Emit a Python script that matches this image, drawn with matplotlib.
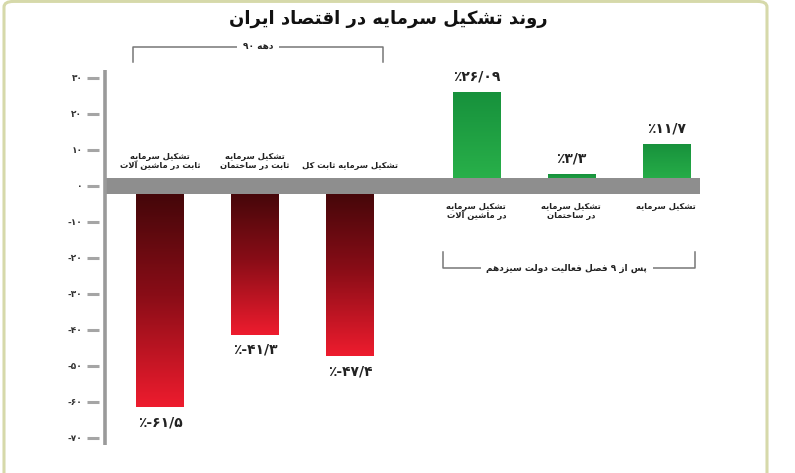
import re
import numpy as np
import matplotlib
matplotlib.use('Agg')
import matplotlib.pyplot as plt
from matplotlib.colors import LinearSegmentedColormap
from matplotlib.patches import FancyBboxPatch

# chart data
categories = [
    'تشکیل سرمایه\nثابت در ماشین آلات',
    'تشکیل سرمایه\nثابت در ساختمان',
    'تشکیل سرمایه ثابت کل',
    'تشکیل سرمایه\nدر ماشین آلات',
    'تشکیل سرمایه\nدر ساختمان',
    'تشکیل سرمایه',
]
values = [-61.5, -41.3, -47.4, 26.09, 3.3, 11.7]
yticks = [30, 20, 10, 0, -10, -20, -30, -40, -50, -60, -70]
title = 'روند تشکیل سرمایه در اقتصاد ایران'
group1 = 'دهه ۹۰'
group2 = 'پس از ۹ فصل فعالیت دولت سیزدهم'

# --- minimal Persian shaping (matplotlib has no bidi / joining) ---
FORMS = {  # isolated, final, initial, medial
    'ا': (0xFE8D, 0xFE8E, None, None), 'آ': (0xFE81, 0xFE82, None, None),
    'ب': (0xFE8F, 0xFE90, 0xFE91, 0xFE92), 'پ': (0xFB56, 0xFB57, 0xFB58, 0xFB59),
    'ت': (0xFE95, 0xFE96, 0xFE97, 0xFE98), 'ث': (0xFE99, 0xFE9A, 0xFE9B, 0xFE9C),
    'خ': (0xFEA5, 0xFEA6, 0xFEA7, 0xFEA8), 'د': (0xFEA9, 0xFEAA, None, None),
    'ر': (0xFEAD, 0xFEAE, None, None), 'ز': (0xFEAF, 0xFEB0, None, None),
    'س': (0xFEB1, 0xFEB2, 0xFEB3, 0xFEB4), 'ش': (0xFEB5, 0xFEB6, 0xFEB7, 0xFEB8),
    'ص': (0xFEB9, 0xFEBA, 0xFEBB, 0xFEBC), 'ع': (0xFEC9, 0xFECA, 0xFECB, 0xFECC),
    'ف': (0xFED1, 0xFED2, 0xFED3, 0xFED4), 'ق': (0xFED5, 0xFED6, 0xFED7, 0xFED8),
    'ک': (0xFB8E, 0xFB8F, 0xFB90, 0xFB91), 'ل': (0xFEDD, 0xFEDE, 0xFEDF, 0xFEE0),
    'م': (0xFEE1, 0xFEE2, 0xFEE3, 0xFEE4), 'ن': (0xFEE5, 0xFEE6, 0xFEE7, 0xFEE8),
    'ه': (0xFEE9, 0xFEEA, 0xFEEB, 0xFEEC), 'و': (0xFEED, 0xFEEE, None, None),
    'ی': (0xFBFC, 0xFBFD, 0xFBFE, 0xFBFF),
}
LAMALEF = {'ا': (0xFEFB, 0xFEFC), 'آ': (0xFEF5, 0xFEF6)}


def shape_line(s):
    toks = []
    i = 0
    while i < len(s):
        if s[i] == 'ل' and i + 1 < len(s) and s[i + 1] in LAMALEF:
            toks.append(('LA', s[i + 1]))
            i += 2
        else:
            toks.append(('C', s[i]))
            i += 1
    out = []
    for j, (k, c) in enumerate(toks):
        prev = toks[j - 1] if j > 0 else None
        nxt = toks[j + 1] if j + 1 < len(toks) else None
        jp = prev is not None and prev[0] == 'C' and prev[1] in FORMS and FORMS[prev[1]][2] is not None
        if k == 'LA':
            out.append(chr(LAMALEF[c][1] if jp else LAMALEF[c][0]))
            continue
        if c not in FORMS:
            out.append(c)
            continue
        f = FORMS[c]
        jn = nxt is not None and (nxt[0] == 'LA' or nxt[1] in FORMS) and f[2] is not None
        if jp and jn:
            out.append(chr(f[3]))
        elif jp:
            out.append(chr(f[1]))
        elif jn:
            out.append(chr(f[2]))
        else:
            out.append(chr(f[0]))
    vis = ''.join(out)[::-1]
    return re.sub('[۰-۹]+', lambda m: m.group()[::-1], vis)


def fa(s):
    return '\n'.join(shape_line(l) for l in s.split('\n'))


def fa_num(v):
    d = str(v).replace('.', '/')
    return d.translate(str.maketrans('0123456789', '۰۱۲۳۴۵۶۷۸۹'))


plt.rcParams['font.family'] = ['DejaVu Sans']
W, H = 795, 473
fig = plt.figure(figsize=(W / 100, H / 100), dpi=100)

# outer rounded frame
frame = FancyBboxPatch((4 / W, -0.05), 763 / W, 1.047, boxstyle='round,pad=0,rounding_size=0.012',
                       transform=fig.transFigure, facecolor='white', edgecolor='#d6d9aa', lw=2.2,
                       zorder=-5)
fig.patches.append(frame)

# axes: left edge = tick root, right edge = end of zero band
ax = fig.add_axes([99 / W, 1 - 445 / H, (700 - 99) / W, (445 - 70) / H])
ax.set_facecolor('none')
ax.set_zorder(2)
px = 95.0  # pixels per category step
ax.set_xlim((99 - 160) / px, (700 - 160) / px)
ax.set_ylim(-72, 32.2)

x = np.arange(len(values)) + np.where(np.arange(len(values)) >= 3, 0.33, 0.0)
width = 0.5

red_cmap = LinearSegmentedColormap.from_list('r', ['#3e0608', '#8a0d17', '#ee1c2e'])
green_cmap = LinearSegmentedColormap.from_list('g', ['#17913c', '#2ab34b'])
bars = ax.bar(x, values, width=width, color='none', edgecolor='none')
grad = np.linspace(0, 1, 256).reshape(-1, 1)
for b, v in zip(bars, values):
    x0, y0 = b.get_x(), b.get_y()
    w, h = b.get_width(), b.get_height()
    cmap = red_cmap if v < 0 else green_cmap
    ext = [x0, x0 + w, min(y0, y0 + h), max(y0, y0 + h)]
    im = ax.imshow(grad, extent=ext, cmap=cmap, aspect='auto', origin='upper', zorder=2)
    im.set_clip_path(b)

# zero band
ax.axhspan(-2.2, 2.2, xmin=0.01, xmax=1, color='#8e8e8e', lw=0, zorder=3)
# axis line
ax.plot([0.01, 0.01], [0, 1], transform=ax.transAxes, color='#9a9a9a', lw=2.6,
        solid_capstyle='butt', clip_on=False, zorder=4)

for s in ax.spines.values():
    s.set_visible(False)
ax.set_xticks([])
ax.set_yticks(yticks)
ax.set_yticklabels([fa_num(t) for t in yticks], fontsize=6.5, fontweight='bold', color='#333333')
ax.tick_params(axis='y', direction='out', length=9, width=2.2, color='#a5a5a5', pad=3)

# value labels
for xi, v in zip(x, values):
    lab = '٪' + fa_num(v)
    if v < 0:
        ax.text(xi, v - 2.3, lab, ha='center', va='top', fontsize=10, fontweight='bold', color='#222222')
    else:
        ax.text(xi, v + 2.3, lab, ha='center', va='bottom', fontsize=10, fontweight='bold', color='#222222')

# category labels
for xi, v, c in zip(x, values, categories):
    if v < 0:
        ax.text(xi, 4.3, fa(c), ha='center', va='bottom', fontsize=6, fontweight='bold',
                color='#222222', linespacing=1.0)
    else:
        ax.text(xi, -4.5, fa(c), ha='center', va='top', fontsize=6, fontweight='bold',
                color='#222222', linespacing=1.0)

# group brackets
tr = ax.get_xaxis_transform()
ax.plot([x[0] - 0.28, x[0] - 0.28, x[2] + 0.35, x[2] + 0.35], [1.021, 1.061, 1.061, 1.021],
        transform=tr, color='#777777', lw=1.1, clip_on=False)
ax.text((x[0] + x[2]) / 2 + 0.03, 1.061, fa(group1), transform=tr, ha='center', va='center',
        fontsize=6.5, fontweight='bold', color='#222222',
        bbox=dict(facecolor='white', edgecolor='none', pad=4))
ax.plot([x[3] - 0.35, x[3] - 0.35, x[5] + 0.3, x[5] + 0.3], [0.515, 0.472, 0.472, 0.515],
        transform=tr, color='#777777', lw=1.1, clip_on=False)
ax.text((x[3] + x[5]) / 2 - 0.05, 0.472, fa(group2), transform=tr, ha='center', va='center',
        fontsize=6.5, fontweight='bold', color='#222222',
        bbox=dict(facecolor='white', edgecolor='none', pad=4))

# title over the frame
fig.text(388 / W, 1 - 19 / H, fa(title), ha='center', va='center', fontsize=13, fontweight='bold',
         color='#111111', bbox=dict(facecolor='white', edgecolor='none', pad=1))

fig.savefig('out.png', dpi=100)
